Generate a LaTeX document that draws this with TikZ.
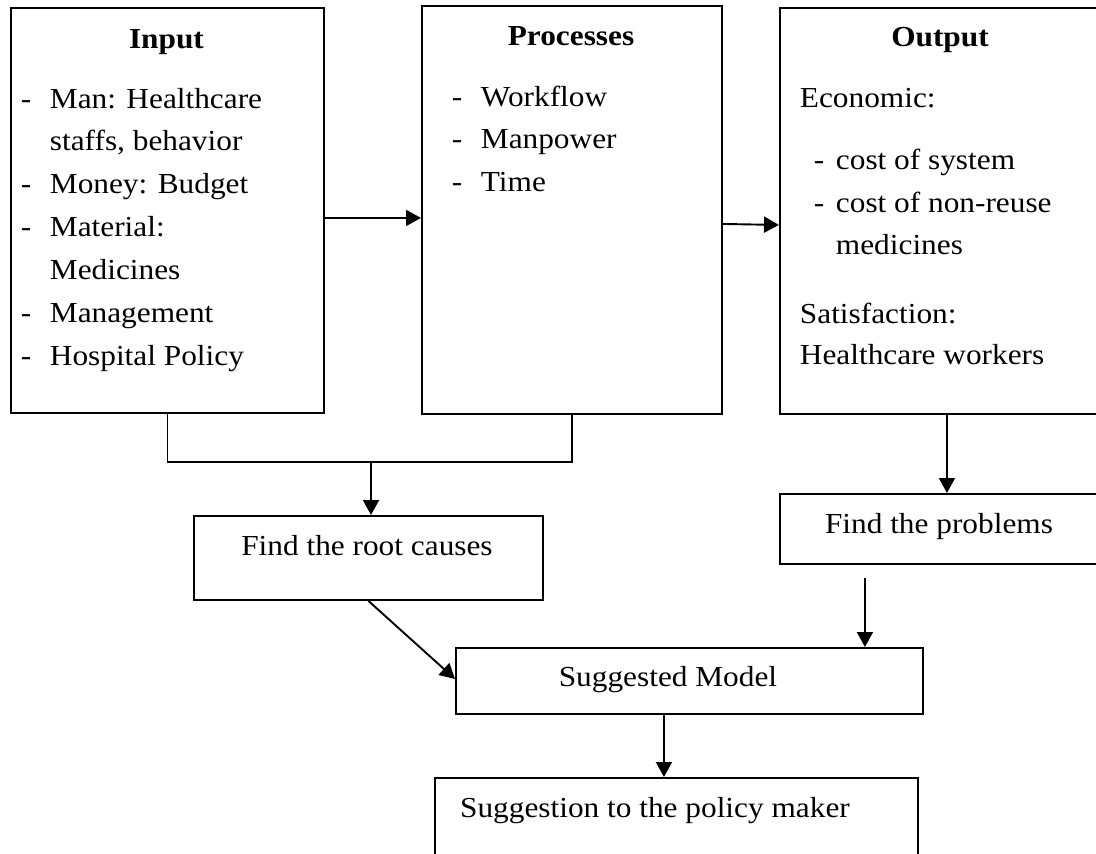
\documentclass[tikz,border=0pt]{standalone}
\usepackage{fontspec}
\setmainfont{Liberation Serif}[FakeStretch=1.08]
\usetikzlibrary{arrows.meta}
\newcommand{\bodyfont}{\fontsize{29}{42.9}\selectfont}
\begin{document}
\begin{tikzpicture}[x=1pt,y=-1pt,line width=1.9pt,
  box/.style={draw, rectangle, inner sep=0pt, anchor=north west},
  txt/.style={anchor=base west, inner sep=0pt, font=\bodyfont},
  ctxt/.style={anchor=base, inner sep=0pt, font=\bodyfont},
  hd/.style={anchor=base, inner sep=0pt, font=\bodyfont\bfseries},
  arr/.style={-{Triangle[length=15pt,width=16pt]}}]
\fill[white] (0,0) rectangle (1096,854);
\clip (0,0) rectangle (1096,854);
% boxes
\node[box, minimum width=313pt, minimum height=405pt] (in) at (10,7) {};
\node[box, minimum width=300pt, minimum height=408pt] (pr) at (421,5) {};
\node[box, minimum width=322pt, minimum height=406pt] (out) at (779,7) {};
\node[box, minimum width=349pt, minimum height=84pt] (rc) at (193,515) {};
\node[box, minimum width=322pt, minimum height=70pt] (fp) at (779,493) {};
\node[box, minimum width=467pt, minimum height=66pt] (sm) at (455,647) {};
\node[box, minimum width=483pt, minimum height=110pt] (pm) at (434,777) {};
% Input text
\node[hd] (inH) at (166.5,48) {Input};
\node[txt] (inL) at (20,108) {\begin{tabular}[t]{@{}p{29pt}@{}l@{}}
-&Man: Healthcare\\
 &staffs, behavior\\
-&Money: Budget\\
-&Material:\\
 &Medicines\\
-&Management\\
-&Hospital Policy
\end{tabular}};
% Processes text
\node[hd] (prH) at (571,45) {Processes};
\node[txt] (prL) at (451,106) {\begin{tabular}[t]{@{}p{29pt}@{}l@{}}
-&Workflow\\
-&Manpower\\
-&Time
\end{tabular}};
% Output text
\node[hd] (outH) at (940,46) {Output};
\node[txt] (o1) at (799,107) {Economic:};
\node[txt] (o2) at (813,169) {-};
\node[txt] (o3) at (835,169) {cost of system};
\node[txt] (o4) at (813,212) {-};
\node[txt] (o5) at (835,212) {cost of non-reuse};
\node[txt] (o6) at (835,254) {medicines};
\node[txt] (o7) at (799,323) {Satisfaction:};
\node[txt] (o8) at (799,364) {Healthcare workers};
% other texts
\node[ctxt] (rcT) at (367,555) {Find the root causes};
\node[ctxt] (fpT) at (939,533) {Find the problems};
\node[ctxt] (smT) at (668,686) {Suggested Model};
\node[ctxt] (pmT) at (655,817) {Suggestion to the policy maker};
% connectors
\draw[arr] ([yshift=-7.5pt]in.east) -- ([yshift=-8pt]pr.west);
\draw[arr] ([yshift=-14pt]pr.east) -- ([yshift=-14pt]out.west);
\draw (in.south) -- ++(0,48) coordinate (bl) -| (pr.south);
\coordinate (br) at (371,461);
\draw[arr] (br) -- (br |- rc.north);
\draw[arr] ([xshift=6pt]out.south) -- ([xshift=6pt]fp.north);
\draw[arr] ([xshift=-76pt,yshift=-13pt]fp.south) coordinate (a1) -- (a1 |- sm.north);
\draw[arr] (rc.south) -- ([yshift=2pt]sm.west);
\draw[arr] ([xshift=-25.5pt]sm.south) coordinate (a2) -- (a2 |- pm.north);
\end{tikzpicture}
\end{document}
